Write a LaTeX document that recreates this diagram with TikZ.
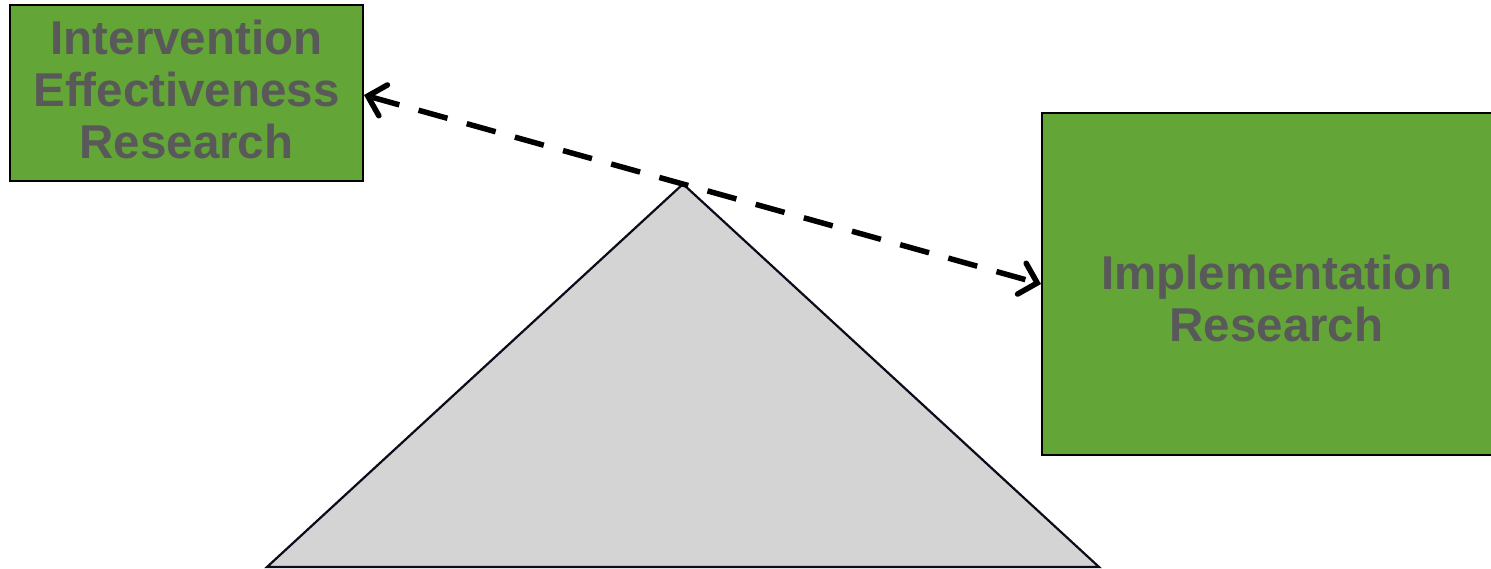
\documentclass[tikz,border=0pt]{standalone}
\usepackage{fontspec}
\setmainfont{Liberation Sans}
\usetikzlibrary{arrows.meta}
\definecolor{boxgreen}{HTML}{63A537}
\definecolor{txtgray}{HTML}{595959}
\definecolor{trigray}{HTML}{D4D4D4}
\definecolor{edgedark}{HTML}{0B0B1A}
\tikzset{
  greenbox/.style={draw=black, line width=2pt, fill=boxgreen, inner sep=0pt},
  boxtext/.style={text=txtgray, font=\fontsize{47.5}{52}\selectfont\bfseries, align=center, inner sep=0pt},
  link/.style={line width=5.5pt, dash pattern=on 30pt off 20pt,
    {Straight Barb[length=16pt,width=32pt,line cap=round]}-{Straight Barb[length=16pt,width=32pt,line cap=round]}},
}
\begin{document}
\begin{tikzpicture}[x=1pt,y=-1pt]
\clip (0,0) rectangle (1491,568);
\fill[white] (0,0) rectangle (1491,568);
% triangle
\coordinate (apex) at (683,184);
\coordinate (bl) at (267,567);
\coordinate (br) at (1099,567);
\draw[fill=trigray, draw=edgedark, line width=2.2pt, line join=miter] (bl) -- (apex) -- (br) -- cycle;
% boxes
\node[greenbox, minimum width=353pt, minimum height=176pt] (ier) at (186.5,93) {};
\node[greenbox, minimum width=473pt, minimum height=342pt] (ir) at (1278.5,284) {};
\node[boxtext] (iert) at (186.5,89.5) {Intervention\\Effectiveness\\Research};
\node[boxtext] (irt) at (1276.5,298.5) {Implementation\\Research};
% link
\coordinate (la) at ([yshift=-2pt]ier.east);
\coordinate (ra) at (ir.west);
\draw[link] (la) -- (ra);
\end{tikzpicture}
\end{document}
